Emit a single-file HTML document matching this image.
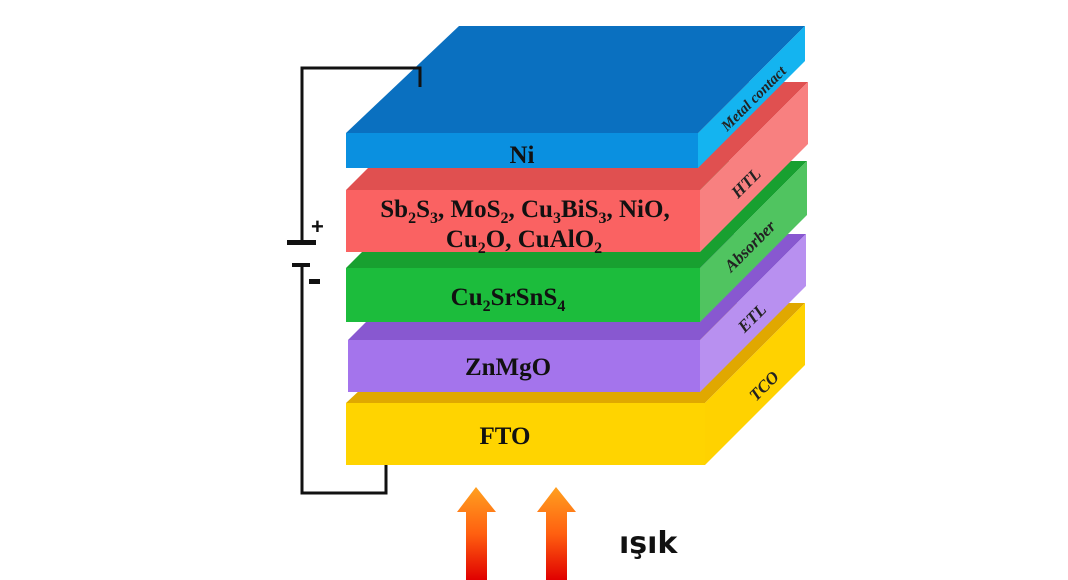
<!DOCTYPE html>
<html><head><meta charset="utf-8"><style>body{margin:0;background:#fff}svg{display:block}</style></head><body>
<svg width="1068" height="580" viewBox="0 0 1068 580" xmlns="http://www.w3.org/2000/svg">
<defs>
<linearGradient id="ar" x1="0" y1="0" x2="0" y2="1"><stop offset="0" stop-color="#ffa020"/><stop offset="0.5" stop-color="#ff6010"/><stop offset="1" stop-color="#e00000"/></linearGradient>
</defs>
<polygon points="346,403 705,403 805,303 453,303" fill="#e0a800"/>
<polygon points="705,403 805,303 805,365 705,465" fill="#ffd200"/>
<rect x="346" y="403" width="359" height="62" fill="#ffd400"/>
<polygon points="348,340 700,340 806,234 454,234" fill="#8858d0"/>
<polygon points="700,340 806,234 806,286 700,392" fill="#b890f0"/>
<rect x="348" y="340" width="352" height="52" fill="#a474ec"/>
<polygon points="346,268 700,268 807,161 453,161" fill="#18a030"/>
<polygon points="700,268 807,161 807,215 700,322" fill="#50c460"/>
<rect x="346" y="268" width="354" height="54" fill="#1cbc3c"/>
<polygon points="346,190 700,190 808,82 454,82" fill="#e05050"/>
<polygon points="700,190 808,82 808,144 700,252" fill="#f88080"/>
<rect x="346" y="190" width="354" height="62" fill="#fa6262"/>
<polygon points="346,133 698,133 805,26 459,26" fill="#0a70c0"/>
<polygon points="698,133 805,26 805,61 698,168" fill="#14b4f0"/>
<rect x="346" y="133" width="352" height="35" fill="#0a90e0"/>
<g font-family="Liberation Serif,serif" font-weight="bold" fill="#111" text-anchor="middle" font-size="25">
<text x="522" y="163">Ni</text>
<text x="525" y="217">Sb<tspan font-size="16" dy="6">2</tspan><tspan dy="-6">S</tspan><tspan font-size="16" dy="6">3</tspan><tspan dy="-6">, MoS</tspan><tspan font-size="16" dy="6">2</tspan><tspan dy="-6">, Cu</tspan><tspan font-size="16" dy="6">3</tspan><tspan dy="-6">BiS</tspan><tspan font-size="16" dy="6">3</tspan><tspan dy="-6">, NiO,</tspan></text>
<text x="524" y="247">Cu<tspan font-size="16" dy="6">2</tspan><tspan dy="-6">O, CuAlO</tspan><tspan font-size="16" dy="6">2</tspan></text>
<text x="508" y="305">Cu<tspan font-size="16" dy="6">2</tspan><tspan dy="-6">SrSnS</tspan><tspan font-size="16" dy="6">4</tspan></text>
<text x="508" y="375">ZnMgO</text>
<text x="505" y="444">FTO</text>
</g>
<g font-family="Liberation Serif,serif" font-style="italic" font-weight="bold" fill="#222" font-size="15" text-anchor="middle">
<text transform="translate(757,102) rotate(-45)">Metal contact</text>
<text transform="translate(750,187) rotate(-45)" font-size="17">HTL</text>
<text transform="translate(754,250) rotate(-45)" font-size="17">Absorber</text>
<text transform="translate(756,322) rotate(-45)" font-size="17">ETL</text>
<text transform="translate(768,390) rotate(-45)" font-size="17">TCO</text>
</g>
<g stroke="#111" stroke-width="3" fill="none">
<polyline points="420,87 420,68 302,68 302,242"/>
<polyline points="302,265 302,493 386,493 386,465"/>
</g>
<rect x="287" y="240" width="29" height="5" fill="#111"/>
<rect x="292" y="263" width="18" height="4" fill="#111"/>
<g font-family="Liberation Sans,sans-serif" font-weight="bold" fill="#111">
<text x="311" y="234" font-size="22">+</text>
<rect x="309" y="279" width="11" height="5"/>
</g>
<polygon points="466,580 466,512 457,512 476,487 496,512 487,512 487,580" fill="url(#ar)"/>
<polygon points="546,580 546,512 537,512 556,487 576,512 567,512 567,580" fill="url(#ar)"/>
<text x="619" y="553" font-family="DejaVu Sans,sans-serif" font-weight="bold" font-size="30" fill="#111">ışık</text>
</svg>
</body></html>
